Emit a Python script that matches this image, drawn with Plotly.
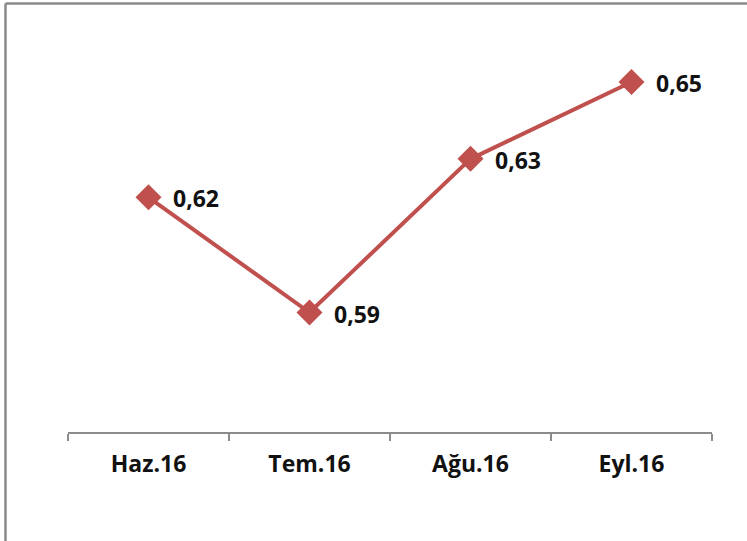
import plotly.graph_objects as go

categories = ["Haz.16", "Tem.16", "Ağu.16", "Eyl.16"]
values = [0.62, 0.59, 0.63, 0.65]
labels = ["0,62", "0,59", "0,63", "0,65"]

W, H = 747, 541
L, R, T, B = 68, 35, 40, 109
PW, PH = W - L - R, H - T - B

fig = go.Figure()
fig.add_trace(go.Scatter(
    x=categories, y=values,
    mode="lines+markers",
    line=dict(color="#C0504D", width=4),
    marker=dict(symbol="diamond", size=20, color="#C0504D"),
    hoverinfo="skip",
))

for c, v, t in zip(categories, values, labels):
    fig.add_annotation(
        x=c, y=v, text=t, showarrow=False,
        xanchor="left", yanchor="middle", xshift=22, yshift=-1,
        font=dict(family="Open Sans", size=23, color="#111111", weight="bold"),
    )

fig.update_layout(
    width=W, height=H,
    margin=dict(l=L, r=R, t=T, b=B),
    paper_bgcolor="white", plot_bgcolor="white",
    showlegend=False,
    xaxis=dict(
        type="category", range=[-0.5, 3.5],
        showline=True, linecolor="#8c8c8c", linewidth=1.5,
        ticks="outside", tickson="boundaries", ticklen=7, tickcolor="#8c8c8c", tickwidth=1.5,
        showgrid=False, zeroline=False,
        tickfont=dict(family="Open Sans", size=23, color="#111111", weight="bold"),
        ticklabelstandoff=11,
    ),
    yaxis=dict(
        range=[0.5589, 0.66094],
        visible=False, showgrid=False, zeroline=False,
    ),
)

# Outer border (only top and left edges visible in the reference crop)
ytop = (H - B - 3.5) / PH
xleft = (5.5 - L) / PW
fig.add_shape(type="line", xref="paper", yref="paper",
              x0=xleft, x1=(W - L) / PW, y0=ytop, y1=ytop,
              line=dict(color="#8a8a8a", width=2.5))
fig.add_shape(type="line", xref="paper", yref="paper",
              x0=xleft, x1=xleft, y0=-B / PH, y1=ytop,
              line=dict(color="#8a8a8a", width=2.5))

fig.write_html("out.html", config={"displayModeBar": False},
               post_script="document.body.style.margin='0';")
